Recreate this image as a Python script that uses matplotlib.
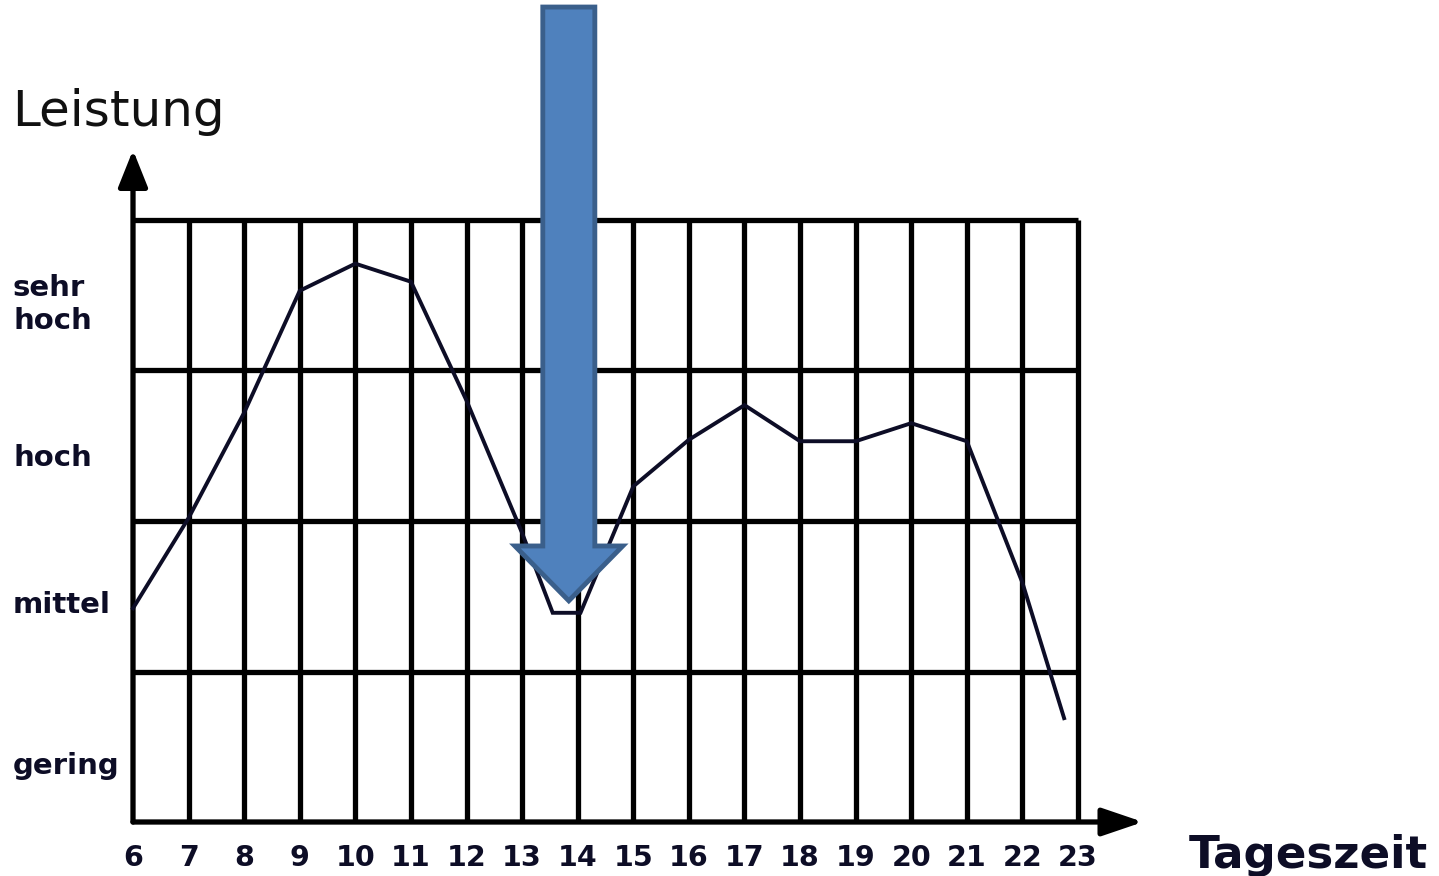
import matplotlib
matplotlib.use("Agg")
import matplotlib.pyplot as plt
from matplotlib.patches import Polygon
from matplotlib.transforms import blended_transform_factory

# ---- data ----
hours = [6, 7, 8, 9, 10, 11, 12, 13, 13.55, 14.05, 15, 16, 17, 18, 19, 20, 21, 22, 22.75]
leistung = [1.42, 2.02, 2.72, 3.53, 3.71, 3.59, 2.80, 1.92, 1.39, 1.39, 2.23, 2.54, 2.77, 2.53, 2.53, 2.65, 2.53, 1.59, 0.69]
tick_hours = list(range(6, 24))
tick_labels = [str(h) for h in tick_hours]
level_labels = ["gering", "mittel", "hoch", "sehr\nhoch"]
level_pos = [0.37, 1.44, 2.42, 3.44]

# highlight arrow (data units)
arrow_x = 13.84
arrow_top = 5.415
arrow_tip = 1.47
arrow_head_base = 1.834
arrow_shaft_hw = 0.468
arrow_head_hw = 0.97

W, H = 1439, 876
fig = plt.figure(figsize=(W / 100, H / 100), dpi=100)
ax = fig.add_axes([133 / W, 54 / H, 945 / W, 602 / H])
ax.set_xlim(6, 23)
ax.set_ylim(0, 4)
for s in ax.spines.values():
    s.set_visible(False)

grid_lw = 3.8
ax.vlines(tick_hours[1:], 0, 4, color="black", lw=grid_lw, clip_on=False, zorder=1)
ax.hlines([1, 2, 3, 4], 6, 23, color="black", lw=grid_lw, clip_on=False, zorder=1)

# axes with arrows
ax.annotate("", xy=(24.17, 0), xytext=(6, 0),
            arrowprops=dict(arrowstyle="-|>,head_length=0.5,head_width=0.17",
                            mutation_scale=50, lw=grid_lw, color="black",
                            shrinkA=0, shrinkB=0),
            annotation_clip=False, zorder=2)
ax.annotate("", xy=(6, 4.465), xytext=(6, 0),
            arrowprops=dict(arrowstyle="-|>,head_length=0.45,head_width=0.18",
                            mutation_scale=50, lw=grid_lw, color="black",
                            shrinkA=0, shrinkB=0),
            annotation_clip=False, zorder=2)

# performance curve
ax.plot(hours, leistung, color="#0d0d26", lw=2.8, zorder=3, clip_on=False,
        solid_joinstyle="miter")

# ticks
ax.set_xticks(tick_hours)
ax.set_xticklabels(tick_labels, fontsize=20.5, fontweight="bold", color="#0d0d26")
ax.tick_params(axis="x", length=0, pad=16)
ax.set_yticks([])

# level labels
tr = blended_transform_factory(fig.transFigure, ax.transData)
for lab, pos in zip(level_labels, level_pos):
    ax.text(13 / W, pos, lab, transform=tr, ha="left", va="center",
            fontsize=21, fontweight="bold", color="#0d0d26", linespacing=1.25)

# blue arrow
x = arrow_x
pts = [(x - arrow_shaft_hw, arrow_top), (x + arrow_shaft_hw, arrow_top),
       (x + arrow_shaft_hw, arrow_head_base), (x + arrow_head_hw, arrow_head_base),
       (x, arrow_tip), (x - arrow_head_hw, arrow_head_base),
       (x - arrow_shaft_hw, arrow_head_base)]
ax.add_patch(Polygon(pts, closed=True, facecolor="#4F81BD", edgecolor="#3A5F8B",
                     lw=3.5, clip_on=False, zorder=5, joinstyle="miter"))

# titles
fig.text(12 / W, 1 - 126 / H, "Leistung", fontsize=36, va="baseline", ha="left",
         color="#111111")
fig.text(1189 / W, 1 - 868 / H, "Tageszeit", fontsize=32.5, fontweight="bold",
         va="baseline", ha="left", color="#0d0d26")

fig.savefig("out.png", dpi=100)
